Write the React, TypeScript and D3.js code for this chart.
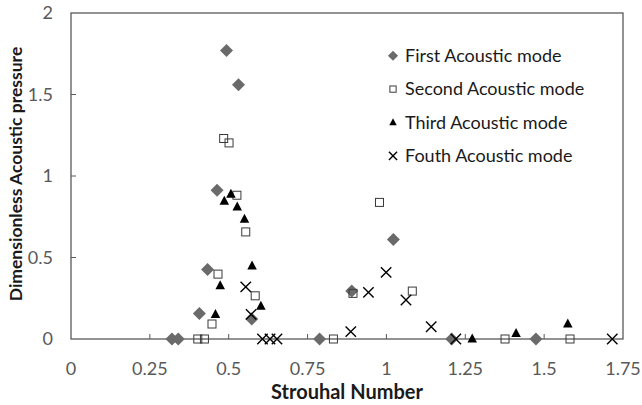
import React from 'react';
import * as d3 from 'd3';

// Strouhal number / dimensionless pressure, one array per acoustic mode
const firstX = [0.32, 0.34, 0.407, 0.433, 0.463, 0.493, 0.531, 0.573, 0.788, 0.89, 1.022, 1.207, 1.474];
const firstY = [0, 0, 0.157, 0.427, 0.913, 1.77, 1.56, 0.123, 0, 0.294, 0.611, 0, 0];

const secondX = [0.402, 0.423, 0.447, 0.466, 0.484, 0.501, 0.526, 0.554, 0.584, 0.832, 0.894, 0.978, 1.082, 1.376, 1.582];
const secondY = [0, 0, 0.092, 0.398, 1.23, 1.203, 0.882, 0.657, 0.265, 0, 0.28, 0.838, 0.294, 0, 0];

const thirdX = [0.458, 0.473, 0.486, 0.507, 0.527, 0.55, 0.574, 0.602, 1.272, 1.411, 1.575];
const thirdY = [0.151, 0.327, 0.846, 0.888, 0.811, 0.735, 0.449, 0.202, 0, 0.035, 0.092];

const fourthX = [0.554, 0.571, 0.607, 0.631, 0.653, 0.887, 0.943, 0.999, 1.062, 1.142, 1.22, 1.716];
const fourthY = [0.32, 0.151, 0, 0, 0, 0.045, 0.286, 0.409, 0.239, 0.075, 0, 0];

const seriesNames = ['First Acoustic mode', 'Second Acoustic mode', 'Third Acoustic mode', 'Fouth Acoustic mode'];
const xTicks = [0, 0.25, 0.5, 0.75, 1, 1.25, 1.5, 1.75];
const yTicks = [0, 0.5, 1, 1.5, 2];

const W = 642;
const H = 405;
const margin = { top: 13, right: 19, bottom: 66, left: 71 };
const font = 'Lato, "Open Sans", sans-serif';

const zip = (xs: number[], ys: number[]) => xs.map((x, i) => ({ x, y: ys[i] }));

const Marker = ({ kind, x, y, legend }: { kind: number; x: number; y: number; legend?: boolean }) => {
  const k = legend ? 0.78 : 1;
  if (kind === 0) {
    const r = 6.5 * k;
    return <path d={`M${x},${y - r}L${x + r},${y}L${x},${y + r}L${x - r},${y}Z`} fill="#6a6a6a" />;
  }
  if (kind === 1) {
    const s = 8 * k;
    return <rect x={x - s / 2} y={y - s / 2} width={s} height={s} fill="none" stroke="#3a3a3a" strokeWidth={1} />;
  }
  if (kind === 2) {
    const h = 9 * k;
    const w = 9.5 * k;
    return <path d={`M${x},${y - h * 0.6}L${x + w / 2},${y + h * 0.4}L${x - w / 2},${y + h * 0.4}Z`} fill="#000" />;
  }
  const r = 5.2 * k;
  return (
    <path d={`M${x - r},${y - r}L${x + r},${y + r}M${x - r},${y + r}L${x + r},${y - r}`} stroke="#000" strokeWidth={1.4} fill="none" />
  );
};

export default function App() {
  const iw = W - margin.left - margin.right;
  const ih = H - margin.top - margin.bottom;
  const x = d3.scaleLinear().domain([0, 1.75]).range([margin.left, margin.left + iw]);
  const y = d3.scaleLinear().domain([0, 2]).range([margin.top + ih, margin.top]);

  const series = [zip(firstX, firstY), zip(secondX, secondY), zip(thirdX, thirdY), zip(fourthX, fourthY)];
  const axisColor = '#595959';

  return (
    <svg width={W} height={H} style={{ position: 'fixed', left: 0, top: 0, background: '#fff' }} fontFamily={font}>
      {/* plot frame */}
      <rect x={margin.left} y={margin.top} width={iw} height={ih} fill="none" stroke={axisColor} strokeWidth={1.3} />

      {xTicks.map(t => (
        <g key={'x' + t}>
          {t > 0 && t < 1.75 && <line x1={x(t)} x2={x(t)} y1={y(0)} y2={y(0) - 5} stroke={axisColor} />}
          <text x={x(t)} y={y(0) + 36} textAnchor="middle" fontSize={18} fill={axisColor}>{d3.format('')(t)}</text>
        </g>
      ))}
      {yTicks.map(t => (
        <g key={'y' + t}>
          {t > 0 && t < 2 && <line x1={x(0)} x2={x(0) + 5} y1={y(t)} y2={y(t)} stroke={axisColor} />}
          <text x={53} y={y(t)} dy="0.35em" textAnchor="end" fontSize={18} fill={axisColor}>{d3.format('')(t)}</text>
        </g>
      ))}

      <text x={margin.left + iw / 2} y={399} textAnchor="middle" fontSize={20} fontWeight="bold" fill="#1a1a1a">Strouhal Number</text>
      <text transform={`translate(21.5,174) rotate(-90)`} textAnchor="middle" fontSize={17.5} fontWeight="bold" fill="#1a1a1a">
        Dimensionless Acoustic pressure
      </text>

      {series.map((pts, si) => (
        <g key={si}>
          {pts.map((p, i) => <Marker key={i} kind={si} x={x(p.x)} y={y(p.y)} />)}
        </g>
      ))}

      {seriesNames.map((n, i) => (
        <g key={n}>
          <Marker kind={i} x={393} y={55.7 + i * 33.4} legend />
          <text x={405} y={55.7 + i * 33.4} dy="0.35em" fontSize={18} fill="#1a1a1a">{n}</text>
        </g>
      ))}
    </svg>
  );
}
